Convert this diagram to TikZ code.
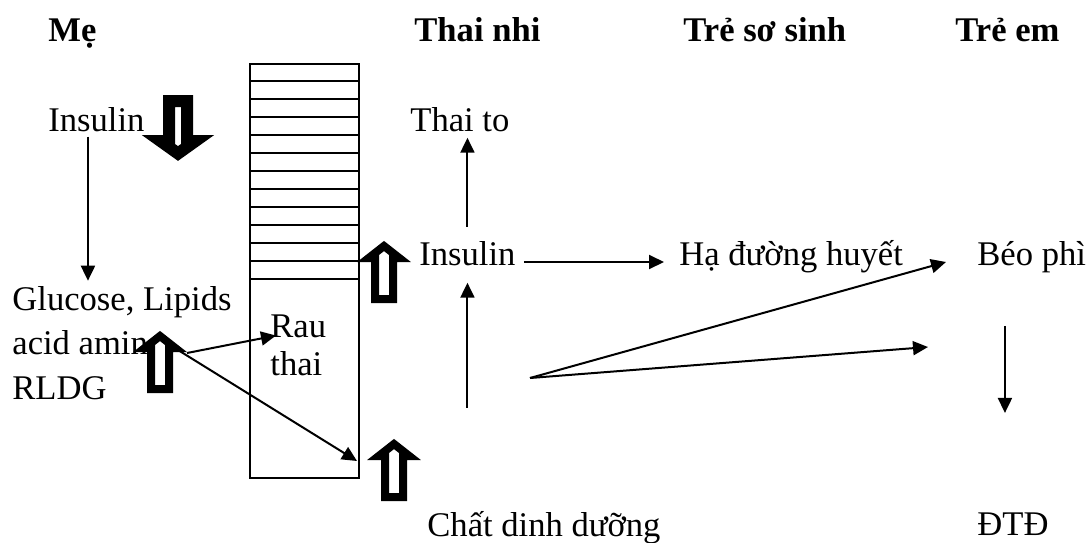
\documentclass[tikz,border=0pt]{standalone}
\usepackage{fontspec}
\setmainfont{Liberation Serif}
\usetikzlibrary{arrows.meta}
\tikzset{thinarrow/.style={-{Triangle[width=7pt,length=7.5pt]},line width=1pt}}
\tikzset{lbl/.style={anchor=base west,inner sep=0pt,font=\fontsize{17.3}{21}\selectfont}}
\tikzset{hdr/.style={lbl,font=\fontsize{17.3}{21}\selectfont\bfseries}}
\tikzset{fatup/.pic={\draw[line width=4pt,line join=miter,fill=white] (0,5) -- (15.3,17) -- (9,17) -- (9,58) -- (-9,58) -- (-9,17) -- (-15.3,17) -- cycle;}}
\tikzset{fatdown/.pic={\draw[line width=6pt,line join=miter,fill=white] (0,-7.5) -- (17.5,-20) -- (9,-20) -- (9,-60) -- (-9,-60) -- (-9,-20) -- (-17.5,-20) -- cycle;}}

\begin{document}
\begin{tikzpicture}[x=0.5pt,y=-0.5pt]
    \useasboundingbox (0,0) rectangle (1088,542);
    % column heads
    \node[hdr] (me) at (48,41) {Mẹ};
    \node[hdr] (thainhi) at (414,41) {Thai nhi};
    \node[hdr] (tss) at (683,41) {Trẻ sơ sinh};
    \node[hdr] (treem) at (955,41) {Trẻ em};
    % placenta
    \node[draw,line width=1pt,minimum width=54.5pt,minimum height=207pt,inner sep=0pt] (bank) at (304.5,271) {};
    \foreach \i in {1,...,12}
        \draw[line width=1pt] ([yshift={-9pt*\i}]bank.north west) -- ([yshift={-9pt*\i}]bank.north east);
    % texts
    \node[lbl] (insm) at (48,131) {Insulin};
    \node[lbl,align=left,font=\fontsize{17.3}{22.25}\selectfont] (glu) at (12,399) {Glucose, Lipids\\acid amin\\RLDG};
    \node[lbl,align=left,font=\fontsize{17.3}{19}\selectfont] (rau) at (270,375) {Rau\\thai};
    \node[lbl] (thaito) at (410,131) {Thai to};
    \node[lbl] (insf) at (419,265) {Insulin};
    \node[lbl] (hdh) at (679,265) {Hạ đường huyết};
    \node[lbl] (beo) at (977,265) {Béo phì};
    \node[lbl] (cdd) at (427,536) {Chất dinh dưỡng};
    \node[lbl] (dtd) at (977,535) {ĐTĐ};
    % block arrows
    \pic at (178,161) {fatdown};
    \pic at (384,241) {fatup};
    \pic at (160,331) {fatup};
    \pic at (394,439) {fatup};
    % free ends
    \coordinate (gluout) at (187,353);
    \coordinate (gluout2) at (178,350);
    \coordinate (bp) at (530,378);
    \coordinate (bp2) at (928,347);
    % connectors
    \draw[thinarrow] ([xshift=-4.25pt,yshift=-2.5pt]insm.south) -- ++(0,144);
    \draw[thinarrow] (gluout) -- ([xshift=3pt,yshift=-10.8pt]rau.north west);
    \draw[thinarrow] (gluout2) -- ([xshift=-1.5pt,yshift=9pt]bank.south east);
    \draw[thinarrow,shorten >=3pt] ([yshift=7pt]insf.north) -- (insf.north |- thaito.south);
    \draw[thinarrow,shorten >=8.5pt] ([yshift=-71pt]insf.south) -- (insf.south);
    \draw[thinarrow,shorten <=4pt,shorten >=7.5pt] ([yshift=1.5pt]insf.base east) -- ([yshift=1.5pt]hdh.base west);
    \draw[thinarrow] (bp) -- ([xshift=-15.5pt,yshift=1.5pt]beo.base west);
    \draw[thinarrow] (bp) -- (bp2);
    \draw[thinarrow] ([xshift=-4pt,yshift=93pt]dtd.north) -- ([xshift=-4pt,yshift=49.5pt]dtd.north);
\end{tikzpicture}
\end{document}
